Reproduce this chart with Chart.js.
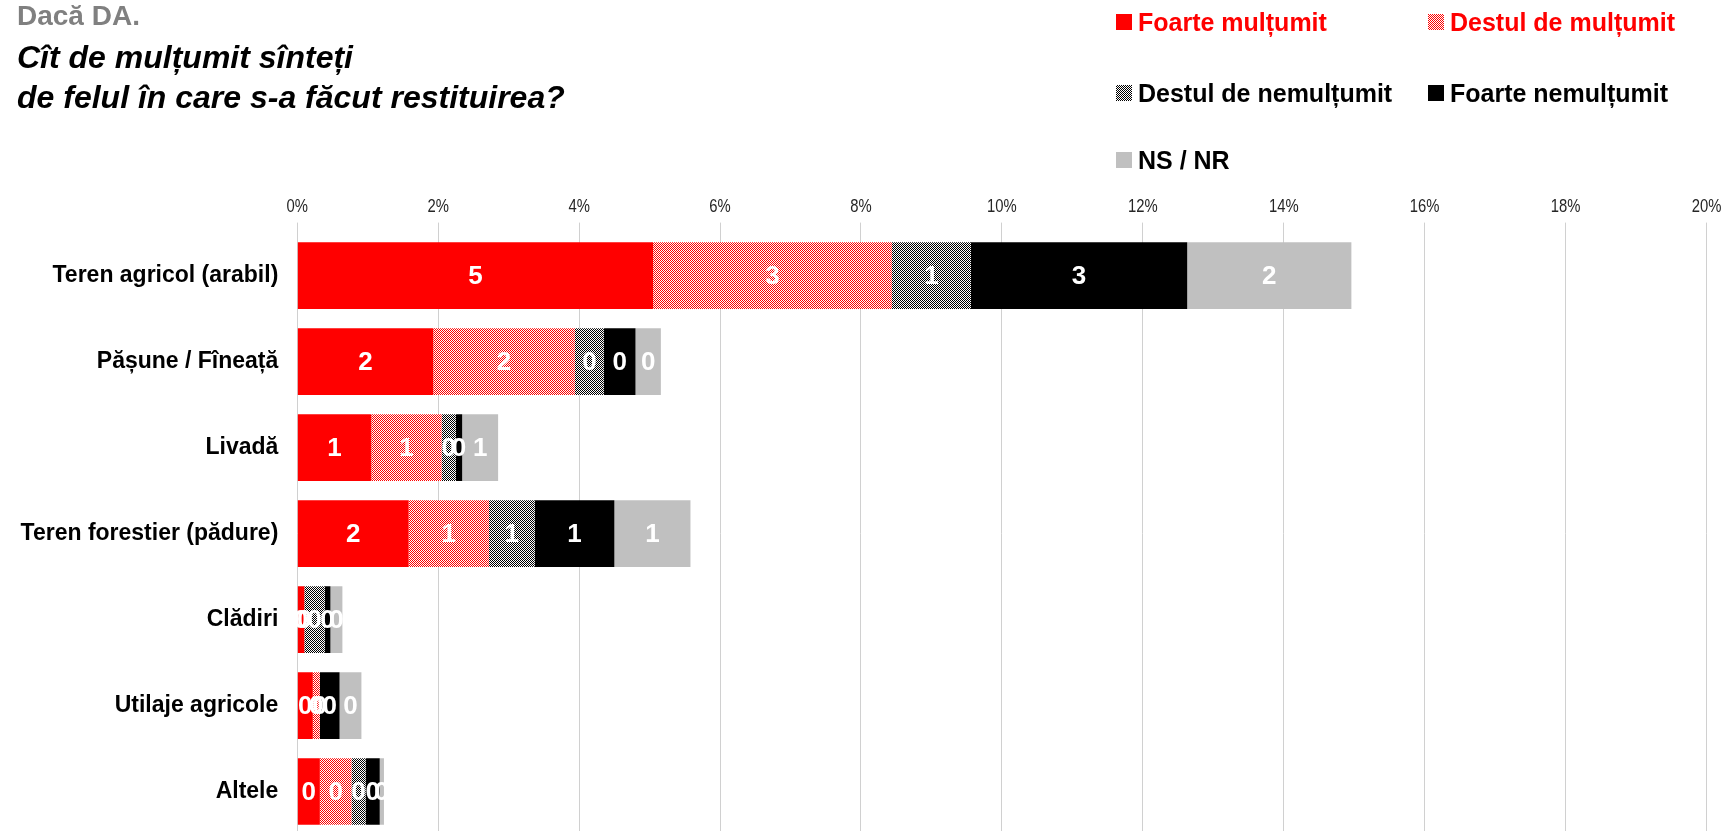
<!DOCTYPE html>
<html>
<head>
<meta charset="utf-8">
<script src="https://cdn.jsdelivr.net/npm/chart.js@4.4.1/dist/chart.umd.min.js"></script>
<style>
  html, body { margin: 0; padding: 0; background: #fff; overflow: hidden; width: 1733px; height: 831px; }
  #wrap { position: relative; width: 1733px; height: 840px; }
</style>
</head>
<body>
<div id="wrap"><canvas id="c" width="1733" height="840"></canvas></div>
<script>
// Categories (land / property types)
const categories = [
  'Teren agricol (arabil)',
  'Pășune / Fîneață',
  'Livadă',
  'Teren forestier (pădure)',
  'Clădiri',
  'Utilaje agricole',
  'Altele'
];

// Share of respondents (%) per satisfaction level
const foarteMultumit   = [5.05, 1.93, 1.05, 1.58, 0.10, 0.22, 0.32];
const destulMultumit   = [3.39, 2.01, 1.00, 1.14, 0.00, 0.10, 0.45];
const destulNemultumit = [1.12, 0.41, 0.20, 0.65, 0.29, 0.00, 0.20];
const foarteNemultumit = [3.07, 0.45, 0.09, 1.13, 0.08, 0.28, 0.20];
const nsNr             = [2.33, 0.36, 0.51, 1.08, 0.17, 0.31, 0.06];

const seriesNames = ['Foarte mulțumit', 'Destul de mulțumit', 'Destul de nemulțumit', 'Foarte nemulțumit', 'NS / NR'];

// Percentage axis
const axisMin = 0;
const axisMax = 20;
const axisStep = 2;

const FONT = "'Liberation Sans', Arial, Helvetica, sans-serif";

// Two-colour checker pattern used for the "destul de ..." series
function checker(fg, bg) {
  const t = document.createElement('canvas');
  t.width = 2; t.height = 2;
  const g = t.getContext('2d');
  g.fillStyle = bg; g.fillRect(0, 0, 2, 2);
  g.fillStyle = fg; g.fillRect(0, 0, 1, 1); g.fillRect(1, 1, 1, 1);
  return g.createPattern(t, 'repeat');
}

const ctx = document.getElementById('c').getContext('2d');
const fills = [
  '#ff0000',
  checker('#ff0000', '#ffffff'),
  checker('#000000', '#ffffff'),
  '#000000',
  '#c0c0c0'
];
const seriesData = [foarteMultumit, destulMultumit, destulNemultumit, foarteNemultumit, nsNr];

// Title block and legend in the top band
const headerPlugin = {
  id: 'header',
  afterDraw(chart) {
    const c = chart.ctx;
    c.save();
    c.textAlign = 'left';
    c.textBaseline = 'alphabetic';
    c.fillStyle = '#808080';
    c.font = 'bold 28px ' + FONT;
    c.fillText('Dacă DA.', 17, 25);
    c.fillStyle = '#000000';
    c.font = 'italic bold 32px ' + FONT;
    c.fillText('Cît de mulțumit sînteți', 17, 68);
    c.fillText('de felul în care s-a făcut restituirea?', 17, 108);

    const pos = [
      { x: 1116, tx: 1138, y: 22, color: '#ff0000' },
      { x: 1428, tx: 1450, y: 22, color: '#ff0000' },
      { x: 1116, tx: 1138, y: 93, color: '#000000' },
      { x: 1428, tx: 1450, y: 93, color: '#000000' },
      { x: 1116, tx: 1138, y: 160, color: '#000000' }
    ];
    c.font = 'bold 25px ' + FONT;
    seriesNames.forEach((name, i) => {
      const p = pos[i];
      c.fillStyle = fills[i];
      c.fillRect(p.x, p.y - 8, 16, 16);
      c.fillStyle = p.color;
      c.fillText(name, p.tx, p.y + 9);
    });
    c.restore();
  }
};

// Condensed percentage labels above the value axis
const axisLabels = {
  id: 'axisLabels',
  afterDraw(chart) {
    const xs = chart.scales.x;
    const c = chart.ctx;
    c.save();
    c.font = '19px ' + FONT;
    c.fillStyle = '#262626';
    c.textAlign = 'center';
    c.textBaseline = 'middle';
    xs.ticks.forEach(t => {
      const px = xs.getPixelForValue(t.value);
      c.save();
      c.translate(px, 207);
      c.scale(0.78, 1);
      c.fillText(t.value + '%', 0, 0);
      c.restore();
    });
    c.restore();
  }
};

// White value labels centred in each bar segment
const valueLabels = {
  id: 'valueLabels',
  afterDatasetsDraw(chart) {
    const c = chart.ctx;
    c.save();
    c.font = 'bold 26px ' + FONT;
    c.fillStyle = '#ffffff';
    c.textAlign = 'center';
    c.textBaseline = 'middle';
    chart.data.datasets.forEach((ds, di) => {
      const meta = chart.getDatasetMeta(di);
      meta.data.forEach((el, i) => {
        const p = el.getProps(['x', 'y', 'base'], true);
        const v = ds.data[i];
        c.fillText(String(Math.round(v)), (p.x + p.base) / 2, p.y + 1);
      });
    });
    c.restore();
  }
};

new Chart(ctx, {
  type: 'bar',
  data: {
    labels: categories,
    datasets: seriesData.map((d, i) => ({
      label: seriesNames[i],
      data: d,
      backgroundColor: fills[i],
      borderWidth: 0,
      barPercentage: 0.776,
      categoryPercentage: 1
    }))
  },
  options: {
    indexAxis: 'y',
    responsive: false,
    animation: false,
    devicePixelRatio: 1,
    layout: { padding: { top: 195, right: 26.5, bottom: 5.5, left: 0 } },
    scales: {
      x: {
        position: 'top',
        stacked: true,
        min: axisMin,
        max: axisMax,
        ticks: {
          stepSize: axisStep,
          callback: v => v + '%',
          font: { family: FONT, size: 18 },
          color: 'rgba(0,0,0,0)',
          padding: 3
        },
        grid: { color: '#d0d0d0', lineWidth: 1, tickLength: 10, drawTicks: true },
        border: { display: false }
      },
      y: {
        stacked: true,
        grid: { display: false, drawTicks: false },
        border: { display: false },
        ticks: { font: { family: FONT, size: 23, weight: 'bold' }, color: '#000000', padding: 19 },
        afterFit(s) {
          s.width = 297.3;
          s.paddingTop = 0;
          s.paddingBottom = 0;
        }
      }
    },
    plugins: { legend: { display: false }, tooltip: { enabled: false }, title: { display: false } }
  },
  plugins: [headerPlugin, axisLabels, valueLabels]
});
</script>
</body>
</html>
